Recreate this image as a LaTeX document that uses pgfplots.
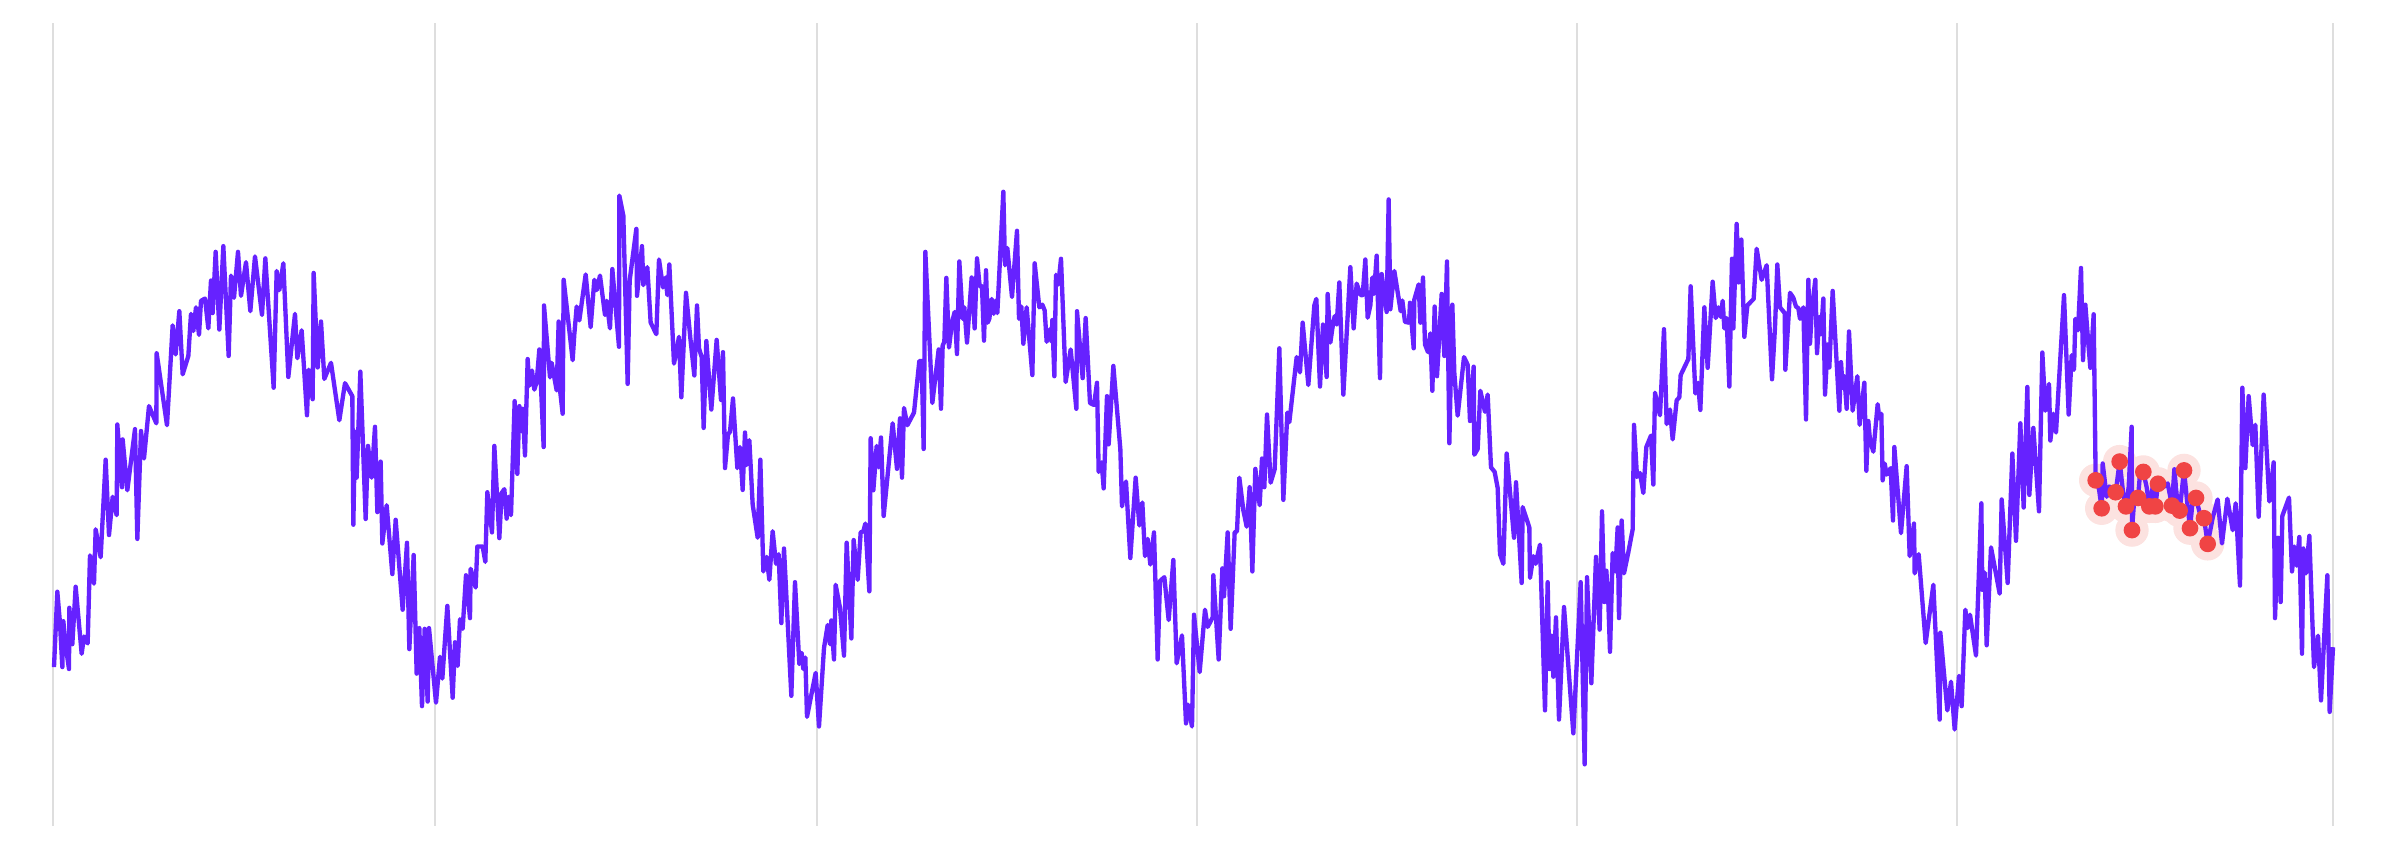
\documentclass[border=0pt]{standalone}
\usepackage{pgfplots}
\pgfplotsset{compat=1.18}
\definecolor{linec}{RGB}{102,34,255}
\definecolor{dotc}{RGB}{240,68,68}
\definecolor{haloc}{RGB}{252,226,224}
\definecolor{gridc}{RGB}{222,222,222}
\begin{document}
\begin{tikzpicture}
\begin{axis}[
  scale only axis, width=684pt, height=240.9pt,
  xmin=159, xmax=6999, ymin=-332, ymax=1766, y dir=reverse,
  xtick={159,1305,2451,3590,4731,5870,6999}, xticklabels={}, ytick=\empty,
  xmajorgrids, grid style={draw=gridc, line width=0.6pt},
  major tick length=0pt, axis line style={draw=none},
  clip=false, clip marker paths=true,
]
\addplot[haloc, only marks, mark=*, mark size=4.8pt, mark options={draw=haloc, fill=haloc}] coordinates {
(6287,862)(6305,935)(6347,893)(6359,813)(6378,930)(6396,992)(6414,908)(6430,840)(6448,930)(6466,930)(6474,871)(6516,928)(6539,941)(6552,836)(6570,987)(6588,908)(6612,961)(6623,1028)
};
\addplot[linec, line width=1.3pt, line join=round, no markers] coordinates {
(162,1350)(172,1153)(180,1235)(187,1350)(190,1230)(198,1300)(207,1355)(208,1195)(217,1290)(227,1140)(245,1315)(252,1270)(263,1288)(270,1058)(282,1132)(287,990)(302,1063)(317,808)(327,1005)(338,905)(350,953)(352,716)(366,880)(368,755)(382,888)(405,728)(412,1015)(423,733)(432,805)(447,668)(469,713)(470,530)(501,718)(518,457)(527,533)(538,420)(548,585)(565,537)(573,427)(580,472)(588,410)(597,482)(603,393)(615,387)(625,465)(633,340)(638,425)(647,265)(658,468)(670,250)(686,537)(693,327)(702,385)(714,265)(723,380)(738,292)(751,420)(765,277)(786,430)(796,282)(821,620)(830,315)(838,365)(850,295)(865,592)(885,427)(892,543)(905,470)(921,692)(926,573)(938,650)(941,320)(953,567)(963,447)(973,597)(993,555)(1018,705)
(1035,608)(1057,642)(1060,978)(1065,735)(1070,855)(1081,578)(1097,963)(1104,772)(1115,855)(1125,722)(1132,945)(1142,813)(1147,1027)(1160,927)(1177,1107)(1187,965)(1208,1200)(1221,1025)(1228,1303)(1241,1057)(1250,1367)(1258,1248)(1266,1452)(1274,1250)(1283,1440)(1287,1248)(1308,1443)(1320,1323)(1327,1380)(1342,1190)(1358,1430)(1365,1285)(1373,1347)(1380,1225)(1388,1250)(1398,1110)(1410,1222)(1412,1093)(1427,1142)(1432,1035)(1448,1035)(1456,1075)(1462,893)(1476,998)(1483,772)(1498,1013)(1505,895)(1513,885)(1520,962)(1525,905)(1533,953)(1544,655)(1552,845)(1558,668)(1565,733)(1568,675)(1575,797)(1583,545)(1588,615)(1596,575)(1603,625)(1610,605)(1618,520)(1631,775)(1632,405)(1650,593)(1655,555)(1670,627)(1676,447)(1680,625)(1688,688)(1691,338)(1718,548)(1723,480)(1730,408)(1738,444)(1757,324)(1772,462)(1783,338)(1790,365)(1800,327)(1815,430)(1820,393)(1830,465)(1837,310)(1857,513)(1858,118)
(1870,170)(1883,610)(1889,340)(1909,205)(1911,380)(1926,250)(1930,352)(1942,305)(1952,450)(1969,480)(1977,285)(1989,358)(1997,332)(2002,378)(2008,298)(2022,557)(2037,487)(2044,645)(2058,372)(2071,490)(2083,588)(2091,405)(2097,517)(2105,540)(2111,725)(2119,498)(2134,677)(2150,495)(2163,652)(2169,527)(2175,830)(2184,742)(2190,735)(2199,648)(2212,830)(2220,775)(2228,887)(2235,737)(2240,822)(2248,757)(2258,925)(2273,1012)(2281,808)(2290,1100)(2300,1062)(2308,1122)(2318,995)(2328,1080)(2336,1055)(2344,1235)(2352,1040)(2374,1425)(2385,1128)(2398,1342)(2405,1313)(2410,1355)(2416,1325)(2421,1480)(2447,1365)(2457,1505)(2472,1300)(2483,1240)(2490,1290)(2494,1228)(2502,1330)(2507,1135)(2520,1195)(2532,1320)(2540,1025)(2554,1275)(2561,1018)(2573,1122)(2582,998)(2590,995)(2596,975)(2608,1152)(2612,752)(2620,888)(2630,772)(2636,828)(2643,750)(2651,955)(2678,713)(2691,832)(2700,700)(2706,855)(2712,673)(2722,718)(2742,685)
(2758,550)(2765,550)(2771,780)(2776,265)(2797,660)(2816,520)(2823,675)(2828,510)(2833,500)(2839,333)(2847,515)(2856,450)(2864,422)(2871,532)(2878,290)(2888,440)(2893,410)(2901,502)(2915,332)(2924,465)(2931,282)(2939,355)(2946,355)(2952,497)(2958,313)(2963,450)(2968,440)(2975,388)(2981,427)(2986,393)(2992,425)(3010,108)(3015,300)(3022,255)(3036,383)(3051,210)(3057,440)(3064,408)(3070,505)(3080,410)(3097,587)(3104,295)(3118,410)(3127,403)(3134,418)(3140,500)(3148,468)(3155,500)(3157,443)(3163,590)(3168,325)(3175,350)(3183,283)(3197,605)(3212,520)(3229,675)(3231,420)(3248,595)(3257,438)(3270,660)(3282,665)(3291,607)(3296,840)(3305,815)(3311,883)(3321,642)(3326,768)(3340,563)(3361,780)(3366,930)(3378,865)(3391,1065)(3407,855)(3418,980)(3427,920)(3435,1060)(3443,1015)(3451,1082)(3462,998)(3473,1330)(3480,1125)(3493,1115)(3506,1227)(3520,1070)(3530,1340)(3546,1267)(3558,1497)(3564,1448)(3576,1505)(3582,1213)(3599,1363)
(3615,1200)(3623,1245)(3638,1220)(3640,1110)(3656,1330)(3667,1092)(3672,1165)(3683,998)(3692,1250)(3704,998)(3711,995)(3718,855)(3730,940)(3740,983)(3749,880)(3757,1100)(3766,832)(3779,927)(3786,805)(3793,880)(3801,690)(3812,868)(3824,833)(3838,517)(3850,913)(3862,685)(3868,710)(3890,540)(3900,580)(3908,450)(3925,613)(3943,405)(3949,388)(3960,617)(3969,455)(3980,592)(3983,375)(3991,502)(3998,460)(4004,433)(4010,455)(4018,345)(4030,638)(4051,305)(4061,465)(4070,348)(4082,378)(4088,378)(4096,285)(4103,437)(4111,405)(4117,332)(4122,375)(4130,275)(4140,595)(4145,323)(4160,422)(4166,128)(4171,415)(4183,315)(4202,420)(4207,392)(4215,448)(4227,450)(4230,398)(4241,517)(4243,390)(4256,350)(4261,450)(4269,332)(4275,507)(4284,527)(4291,478)(4297,628)(4304,408)(4311,590)(4325,375)(4333,537)(4341,290)(4348,765)(4357,403)(4363,582)(4373,693)(4392,540)(4403,560)(4410,707)(4421,565)(4423,795)(4433,780)(4441,628)(4455,683)(4463,638)(4473,828)(4484,840)(4493,882)(4500,1055)
(4510,1080)(4520,792)(4542,1012)(4548,867)(4565,1130)(4568,932)(4588,985)(4590,1117)(4600,1060)(4607,1080)(4620,1030)(4635,1463)(4643,1128)(4648,1355)(4655,1268)(4660,1375)(4668,1220)(4677,1487)(4692,1193)(4720,1523)(4742,1128)(4754,1604)(4761,1115)(4774,1392)(4788,1062)(4799,1252)(4806,943)(4813,1180)(4819,1098)(4825,1180)(4830,1310)(4838,1052)(4846,1100)(4853,985)(4857,1222)(4865,967)(4872,1105)(4885,1050)(4898,990)(4902,717)(4911,853)(4920,843)(4930,895)(4939,775)(4953,745)(4960,873)(4965,633)(4973,667)(4980,692)(4992,467)(5000,715)(5010,677)(5018,755)(5030,653)(5038,645)(5042,587)(5065,545)(5072,355)(5086,635)(5094,607)(5101,678)(5113,410)(5123,568)(5138,343)(5147,438)(5155,410)(5162,435)(5168,393)(5173,465)(5180,438)(5188,617)(5196,283)(5200,465)(5210,192)(5216,345)(5224,233)(5233,487)(5242,405)(5261,388)(5270,257)(5285,338)(5300,300)(5316,598)(5325,462)(5332,298)(5340,410)(5354,425)(5356,573)(5370,372)
(5380,385)(5388,408)(5395,412)(5400,440)(5410,410)(5418,703)(5425,338)(5430,505)(5436,410)(5446,338)(5451,530)(5458,435)(5463,480)(5470,387)(5475,638)(5483,507)(5488,567)(5498,367)(5518,680)(5523,553)(5528,620)(5533,590)(5540,675)(5547,473)(5558,680)(5572,590)(5579,717)(5593,607)(5599,837)(5605,707)(5610,758)(5620,787)(5633,663)(5638,700)(5644,688)(5648,862)(5654,818)(5660,847)(5672,830)(5679,967)(5683,775)(5703,1000)(5720,825)(5729,1060)(5742,975)(5744,1105)(5756,1055)(5777,1287)(5800,1135)(5819,1487)(5821,1260)(5842,1463)(5853,1388)(5864,1513)(5877,1373)(5885,1452)(5896,1200)(5903,1248)(5910,1213)(5928,1320)(5944,922)(5947,1148)(5954,1103)(5960,1293)(5973,1037)(5999,1158)(6005,912)(6023,1130)(6037,792)(6048,1020)(6061,713)(6071,933)(6082,618)(6088,900)(6100,725)(6117,943)(6127,528)(6136,680)(6147,610)(6151,758)(6160,688)(6168,737)(6192,378)(6206,690)(6215,535)(6222,573)(6226,440)(6234,470)(6243,307)
(6249,548)(6256,403)(6265,505)(6271,568)(6281,428)(6287,862)(6297,885)(6305,935)(6308,818)(6320,905)(6328,878)(6347,893)(6359,813)(6370,900)(6378,930)(6386,880)(6395,722)(6396,992)(6404,895)(6414,908)(6421,835)(6430,840)(6440,880)(6448,930)(6458,880)(6466,930)(6474,871)(6490,880)(6503,870)(6516,928)(6523,833)(6532,920)(6539,941)(6552,836)(6560,905)(6570,987)(6578,915)(6588,908)(6600,950)(6612,961)(6623,1028)(6638,960)(6653,912)(6666,1027)(6682,910)(6698,992)(6707,922)(6720,1137)(6727,620)(6736,830)(6746,642)(6758,770)(6766,717)(6776,957)(6791,638)(6808,917)(6821,815)(6825,1222)(6834,1012)(6842,1180)(6847,955)(6867,907)(6876,1100)(6883,1035)(6890,1085)(6898,1010)(6906,1315)(6910,1040)(6918,1105)(6928,1007)(6942,1350)(6954,1268)(6963,1437)(6982,1110)(6989,1467)(6999,1298)
};
\addplot[dotc, only marks, mark=*, mark size=2.3pt, mark options={draw=dotc, fill=dotc}] coordinates {
(6287,862)(6305,935)(6347,893)(6359,813)(6378,930)(6396,992)(6414,908)(6430,840)(6448,930)(6466,930)(6474,871)(6516,928)(6539,941)(6552,836)(6570,987)(6588,908)(6612,961)(6623,1028)
};
\end{axis}
\pgfresetboundingbox
\path ([shift={(-15.9pt,-7pt)}]current axis.south west) ([shift={(-15.9pt,7pt)}]current axis.south west)
      ([shift={(15.9pt,7pt)}]current axis.north east) ([shift={(15.9pt,-7pt)}]current axis.north east);
\end{tikzpicture}
\end{document}
